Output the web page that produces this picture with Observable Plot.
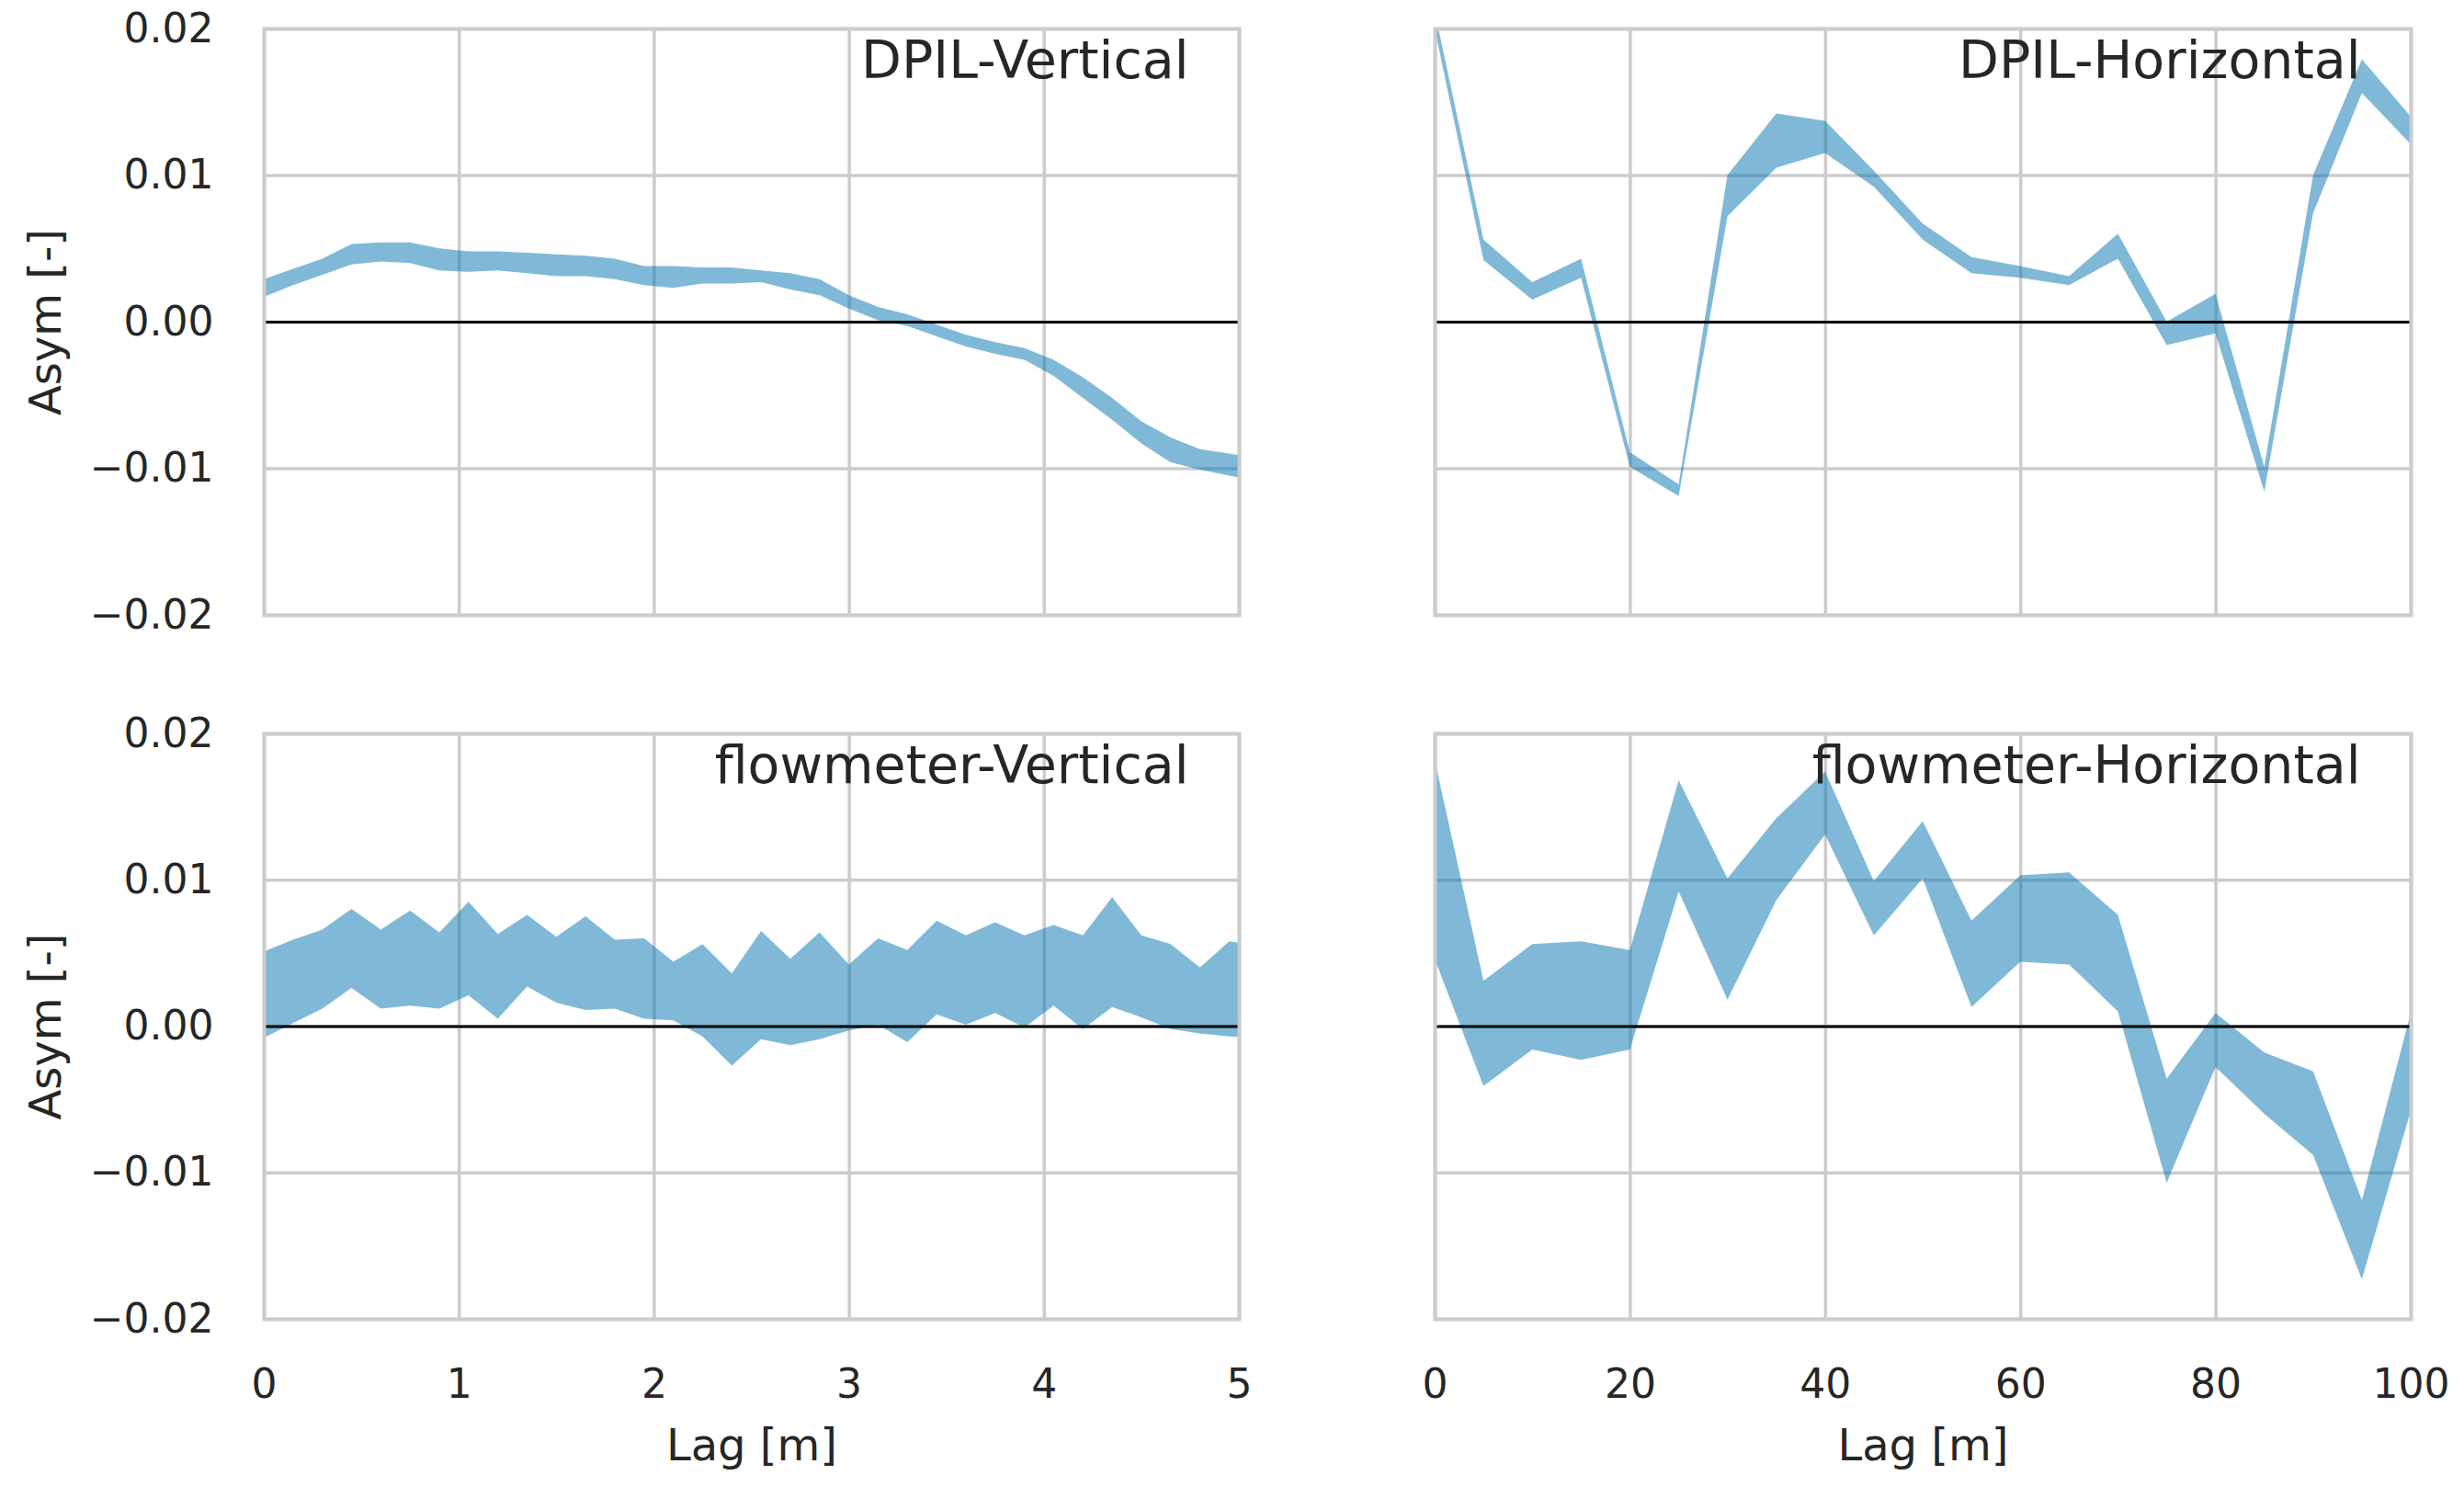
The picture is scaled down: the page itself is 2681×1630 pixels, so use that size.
<!DOCTYPE html>
<html>
<head>
<meta charset="utf-8">
<script src="https://cdn.jsdelivr.net/npm/d3@7"></script>
<script src="https://cdn.jsdelivr.net/npm/@observablehq/plot@0.6"></script>
<style>
  body { margin: 0; background: #ffffff; }
  #fig { position: relative; width: 2681px; height: 1630px; background: #ffffff; font-family: "DejaVu Sans", sans-serif; }
  #fig > div { position: absolute; }
  #fig svg { overflow: visible; max-width: none; }
</style>
</head>
<body>
<div id="fig"></div>
<script>
// ---------- data ----------
const lagsVertical = [0, 0.15, 0.3, 0.45, 0.6, 0.75, 0.9, 1.05, 1.2, 1.35, 1.5, 1.65, 1.8, 1.95, 2.1, 2.25, 2.4, 2.55, 2.7, 2.85, 3.0, 3.15, 3.3, 3.45, 3.6, 3.75, 3.9, 4.05, 4.2, 4.35, 4.5, 4.65, 4.8, 4.95, 5.1];
const lagsHorizontal = [0, 5, 10, 15, 20, 25, 30, 35, 40, 45, 50, 55, 60, 65, 70, 75, 80, 85, 90, 95, 100];

const dpilVerticalUpper = [0.0029, 0.0036, 0.0043, 0.0053, 0.0054, 0.0054, 0.0050, 0.0048, 0.0048, 0.0047, 0.0046, 0.0045, 0.0043, 0.0038, 0.0038, 0.0037, 0.0037, 0.0035, 0.0033, 0.0029, 0.0018, 0.0010, 0.0005, -0.0002, -0.0009, -0.0014, -0.0018, -0.0026, -0.0038, -0.0052, -0.0068, -0.0079, -0.0087, -0.0090, -0.0093];
const dpilVerticalLower = [0.0017, 0.0025, 0.0032, 0.0039, 0.0041, 0.0040, 0.0035, 0.0034, 0.0035, 0.0033, 0.0031, 0.0031, 0.0029, 0.0025, 0.0023, 0.0026, 0.0026, 0.0027, 0.0022, 0.0018, 0.0009, 0.0001, -0.0003, -0.0010, -0.0017, -0.0022, -0.0026, -0.0037, -0.0052, -0.0067, -0.0083, -0.0096, -0.0101, -0.0105, -0.0109];

const flowVerticalUpper = [0.0051, 0.0059, 0.0066, 0.0080, 0.0066, 0.0079, 0.0064, 0.0085, 0.0063, 0.0076, 0.0061, 0.0075, 0.0059, 0.0060, 0.0044, 0.0056, 0.0036, 0.0065, 0.0046, 0.0064, 0.0042, 0.0060, 0.0052, 0.0072, 0.0062, 0.0071, 0.0062, 0.0069, 0.0062, 0.0088, 0.0062, 0.0056, 0.0040, 0.0058, 0.0055];
const flowVerticalLower = [-0.0008, 0.0002, 0.0012, 0.0026, 0.0012, 0.0014, 0.0012, 0.0021, 0.0005, 0.0027, 0.0016, 0.0011, 0.0012, 0.0005, 0.0004, -0.0007, -0.0027, -0.0009, -0.0013, -0.0009, -0.0003, 0.0001, -0.0011, 0.0008, 0.0001, 0.0009, -0.0001, 0.0014, -0.0002, 0.0013, 0.0006, -0.0002, -0.0005, -0.0007, -0.0008];

const dpilHorizontalUpper = [0.0212, 0.0056, 0.0027, 0.0043, -0.0089, -0.0111, 0.0100, 0.0142, 0.0137, 0.0103, 0.0067, 0.0044, 0.0038, 0.0031, 0.0060, 0.0000, 0.0019, -0.0099, 0.0100, 0.0179, 0.0140];
const dpilHorizontalLower = [0.0200, 0.0042, 0.0015, 0.0030, -0.0099, -0.0119, 0.0072, 0.0105, 0.0115, 0.0092, 0.0056, 0.0033, 0.0030, 0.0025, 0.0043, -0.0016, -0.0008, -0.0116, 0.0074, 0.0156, 0.0121];

const flowHorizontalUpper = [0.0182, 0.0031, 0.0056, 0.0058, 0.0052, 0.0168, 0.0101, 0.0142, 0.0174, 0.0099, 0.0140, 0.0072, 0.0103, 0.0105, 0.0076, -0.0036, 0.0009, -0.0018, -0.0031, -0.0119, 0.0009];
const flowHorizontalLower = [0.0046, -0.0041, -0.0016, -0.0023, -0.0016, 0.0092, 0.0018, 0.0086, 0.0131, 0.0062, 0.0101, 0.0013, 0.0044, 0.0042, 0.0010, -0.0107, -0.0028, -0.0060, -0.0088, -0.0173, -0.0058];

const yTicks = [-0.02, -0.01, 0.00, 0.01, 0.02];
const xTicksVertical = [0, 1, 2, 3, 4, 5];
const xTicksHorizontal = [0, 20, 40, 60, 80, 100];
const titles = ["DPIL-Vertical", "DPIL-Horizontal", "flowmeter-Vertical", "flowmeter-Horizontal"];
const xLabel = "Lag [m]";
const yLabel = "Asym [-]";

// ---------- drawing ----------
const TEXT = "#262626";
const GRID = "#cccccc";
const FILL = "#0173b2";
const fmtY = d => d === 0 ? "0.00" : (d < 0 ? "\u2212" : "") + Math.abs(d).toFixed(2);

function panel(o) {
  const data = o.lags.map((lag, i) => ({lag, upper: o.upper[i], lower: o.lower[i]}));
  const marks = [
    Plot.gridX(o.xTicks, {stroke: GRID, strokeOpacity: 1, strokeWidth: 3.5}),
    Plot.gridY(yTicks, {stroke: GRID, strokeOpacity: 1, strokeWidth: 3.5}),
    Plot.areaY(data, {x: "lag", y1: "lower", y2: "upper", fill: FILL, fillOpacity: 0.5, clip: true}),
    Plot.ruleY([0], {stroke: "black", strokeWidth: 3}),
    Plot.frame({stroke: GRID, strokeWidth: 4}),
    Plot.text([o.title], {frameAnchor: "top-right", textAnchor: "end", dx: -55, dy: 13, fontSize: 57, fill: TEXT})
  ];
  if (o.showX) {
    marks.push(Plot.axisX(o.xTicks, {tickSize: 0, tickPadding: 54, fontSize: 44, fill: TEXT, label: null, tickFormat: d => String(d)}));
    marks.push(Plot.text([xLabel], {frameAnchor: "bottom", textAnchor: "middle", lineAnchor: "middle", dy: 138, fontSize: 48, fill: TEXT}));
  }
  if (o.showY) {
    marks.push(Plot.axisY(yTicks, {tickSize: 0, tickPadding: 55, fontSize: 44, fill: TEXT, label: null, tickFormat: fmtY}));
    marks.push(Plot.text([yLabel], {frameAnchor: "left", textAnchor: "middle", lineAnchor: "middle", dx: -237, rotate: -90, fontSize: 48, fill: TEXT}));
  }
  const svg = Plot.plot({
    width: o.width, height: o.height,
    marginLeft: o.mL, marginRight: o.mR, marginTop: o.mT, marginBottom: o.mB,
    style: {fontFamily: "'DejaVu Sans', sans-serif", background: "transparent", color: TEXT, overflow: "visible"},
    x: {domain: o.xDomain, axis: null},
    y: {domain: [-0.02, 0.02], axis: null},
    marks
  });
  const div = document.createElement("div");
  div.style.left = o.left + "px";
  div.style.top = o.top + "px";
  div.appendChild(svg);
  document.getElementById("fig").appendChild(div);
}

panel({lags: lagsVertical, upper: dpilVerticalUpper, lower: dpilVerticalLower, xDomain: [0, 5], xTicks: xTicksVertical,
  title: titles[0], showX: false, showY: true, left: 0, top: 0, width: 1358, height: 679, mL: 287, mR: 10, mT: 31, mB: 10});
panel({lags: lagsHorizontal, upper: dpilHorizontalUpper, lower: dpilHorizontalLower, xDomain: [0, 100], xTicks: xTicksHorizontal,
  title: titles[1], showX: false, showY: false, left: 1551, top: 0, width: 1122, height: 679, mL: 10, mR: 50, mT: 31, mB: 10});
panel({lags: lagsVertical, upper: flowVerticalUpper, lower: flowVerticalLower, xDomain: [0, 5], xTicks: xTicksVertical,
  title: titles[2], showX: true, showY: true, left: 0, top: 778, width: 1358, height: 852, mL: 287, mR: 10, mT: 20, mB: 195});
panel({lags: lagsHorizontal, upper: flowHorizontalUpper, lower: flowHorizontalLower, xDomain: [0, 100], xTicks: xTicksHorizontal,
  title: titles[3], showX: true, showY: false, left: 1551, top: 778, width: 1122, height: 852, mL: 10, mR: 50, mT: 20, mB: 195});
</script>
</body>
</html>
